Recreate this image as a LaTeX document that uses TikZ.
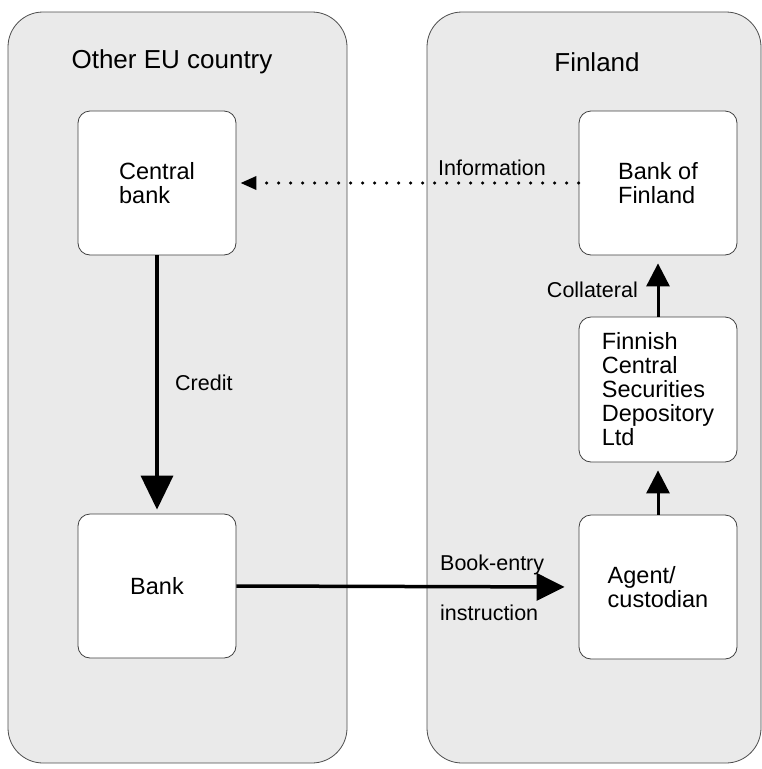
\documentclass[tikz,border=0pt]{standalone}
\usepackage{fontspec}
\setmainfont{Liberation Sans}
\usetikzlibrary{arrows.meta}
\definecolor{panelgray}{RGB}{234,234,234}

\begin{document}
\begin{tikzpicture}[x=1pt,y=-1pt,
	panel/.style={draw=black!70,fill=panelgray,rounded corners=35pt,line width=0.8pt},
	party/.style={draw=black!75,fill=white,rounded corners=12pt,line width=0.8pt,minimum width=158pt,minimum height=144pt,align=left,font=\fontsize{23.5}{24}\selectfont},
	title/.style={font=\fontsize{26}{30}\selectfont},
	flowlabel/.style={font=\fontsize{21.5}{24}\selectfont,inner sep=0pt},
	flow/.style={line width=3pt,-{Triangle[width=23pt,length=23pt]}},
	info/.style={line width=3.4pt,line cap=round,dash pattern=on 0pt off 12pt,-{Triangle[width=13pt,length=16pt]},shorten >=4pt}]
	\useasboundingbox (0,0) rectangle (762,769);
	\draw[panel] (8,12) rectangle (347,763);
	\draw[panel] (427,12) rectangle (761,763);
	\node[title] (other) at (172,62) {Other EU country};
	\node[title] (fin) at (597,62) {Finland};

	\node[party] (cb) at (157,183) {Central\\bank};
	\node[party] (bank) at (157,586) {Bank};
	\node[party] (bof) at (658,183) {Bank of\\Finland};
	\node[party,minimum height=145pt] (fcsd) at (658,389.5) {Finnish\\Central\\Securities\\Depository\\Ltd};
	\node[party] (agent) at (658,587) {Agent/\\custodian};

	\draw[flow,line width=3.5pt,-{Triangle[width=32pt,length=34pt]},shorten >=4pt] (cb)--(bank);
	\node[flowlabel,anchor=west] (credit) at (175,383) {Credit};
	\draw[info] (bof)--(cb);
	\node[flowlabel,anchor=west] (information) at (438,168) {Information};
	\draw[flow,line width=3.5pt,-{Triangle[width=27pt,length=28pt]},shorten >=14pt] (bank.east)--(agent.west);
	\node[flowlabel,anchor=west] (bookentry) at (440,565) {Book-entry};
	\node[flowlabel,anchor=west] (instruction) at (440,613) {instruction};
	\draw[flow,shorten >=8pt] (agent)--(fcsd);
	\draw[flow,shorten >=8pt] (fcsd)--(bof);
	\node[flowlabel,anchor=east] (collateral) at (638,290) {Collateral};
\end{tikzpicture}
\end{document}
